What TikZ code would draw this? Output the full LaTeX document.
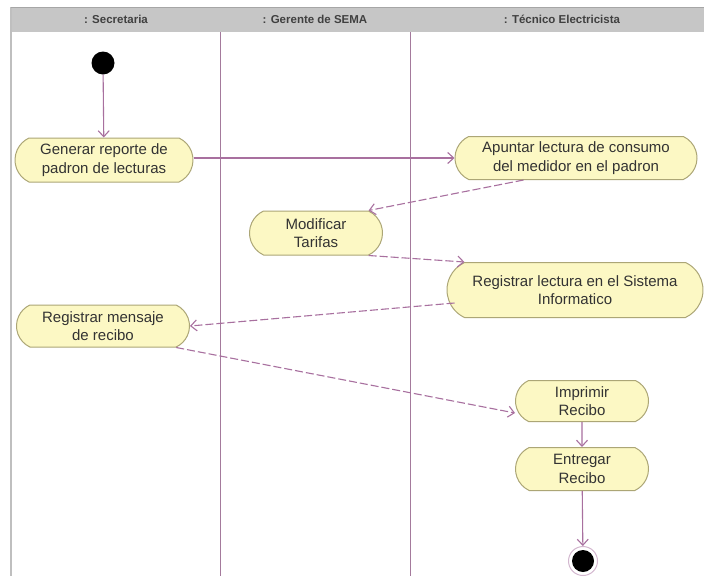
\documentclass[tikz,border=0pt]{standalone}
\usepackage{fontspec}
\setmainfont{Liberation Sans}
\usetikzlibrary{shapes.misc,arrows.meta}
\definecolor{lanecol}{HTML}{A47A9C}
\definecolor{flowcol}{HTML}{A8709F}
\definecolor{actfill}{HTML}{FCF8C4}
\definecolor{actdraw}{HTML}{ACA676}
\definecolor{headfill}{HTML}{C6C6C6}
\tikzset{
  action/.style={rounded rectangle, rounded rectangle arc length=130,
    draw=actdraw, fill=actfill, line width=1pt, align=center,
    font=\fontsize{15}{18.5}\selectfont, text=black!80, inner sep=0pt},
  flow/.style={draw=flowcol, line width=1.1pt, -{Straight Barb[length=6pt,width=11pt]}},
  dflow/.style={flow, dash pattern=on 8pt off 3pt},
  lane/.style={draw=lanecol, line width=0.9pt},
  lanehead/.style={font=\fontsize{11.5}{13}\selectfont\bfseries, text=black!75},
}
\begin{document}
\begin{tikzpicture}[x=1pt,y=-1pt]
\useasboundingbox (0,0) rectangle (704,576);
\fill[white] (0,0) rectangle (704,576);
% swimlane frame and header band
\fill[headfill] (11,7) rectangle (704,32);
\draw[black!25, line width=1.2pt] (11,7) -- (11,576);
\draw[black!35, line width=0.6pt] (11,7) -- (704,7);
\draw[lane] (220,32) -- (220,576);
\draw[lane] (410,32) -- (410,576);
\node[lanehead] (h1) at (116,19) {: Secretaria};
\node[lanehead] (h2) at (315,19) {: Gerente de SEMA};
\node[lanehead] (h3) at (562,19) {: Técnico Electricista};
% initial and final nodes
\node[circle, fill=black, minimum size=23pt, inner sep=0pt] (start) at (103,63) {};
\node[circle, draw=flowcol!50, fill=white, line width=1pt, minimum size=29pt, inner sep=0pt] (finish) at (583,561) {};
\node[circle, fill=black, minimum size=22pt, inner sep=0pt] (finishdot) at (583,561) {};
% actions
\node[action, minimum width=178pt, minimum height=44pt] (gen) at (104,160) {Generar reporte de\\padron de lecturas};
\node[action, minimum width=242pt, minimum height=43pt] (apu) at (576,158) {Apuntar lectura de consumo\\del medidor en el padron};
\node[action, minimum width=133pt, minimum height=44pt] (mod) at (316,233) {Modificar\\Tarifas};
\node[action, minimum width=256pt, minimum height=55pt] (reg) at (575,290) {Registrar lectura en el Sistema\\Informatico};
\node[action, minimum width=173pt, minimum height=42pt] (msg) at (103,326) {Registrar mensaje\\de recibo};
\node[action, minimum width=133pt, minimum height=41pt] (imp) at (582,401) {Imprimir\\Recibo};
\node[action, minimum width=133pt, minimum height=43pt] (ent) at (582,469) {Entregar\\Recibo};
% control flows
\draw[flow] (start) -- (gen);
\draw[flow] (gen.east) ++(0,-2) -- (apu.west |- 0,158);
\draw[dflow] (apu.south west) ++(55,0) -- (mod.north east);
\draw[dflow] (mod.south east) -- (reg.north west);
\draw[dflow] (reg.west) ++(8,13) -- (msg.east);
\draw[dflow] (msg.south east) -- ([yshift=-12pt]imp.west);
\draw[flow] (imp) -- (ent);
\draw[flow] (ent) -- (finish);
\end{tikzpicture}
\end{document}
